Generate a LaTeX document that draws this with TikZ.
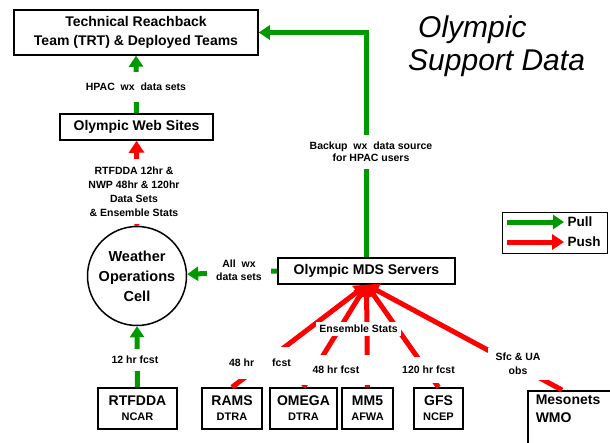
\documentclass[tikz,border=0pt]{standalone}
\usepackage{fontspec}
\setmainfont{Liberation Sans}
\usetikzlibrary{arrows.meta}
\definecolor{pullgreen}{RGB}{0,153,0}

\begin{document}
\begin{tikzpicture}[x=1pt, y=-1pt,
    box/.style = {
      draw,
      line width = 1.5pt,
      fill = white,
      inner sep = 0pt,
      align = center,
      font = \bfseries\fontsize{14}{16}\selectfont
    },
    lbl/.style = {
      fill = white,
      inner xsep = 3pt,
      align = center,
      font = \bfseries\fontsize{10.5}{13}\selectfont
    },
    pullarrow/.style = {
      draw = pullgreen,
      line width = 5pt,
      -{Triangle[length=11pt,width=14pt]}
    },
    pusharrow/.style = {
      draw = red,
      line width = 5pt,
      -{Triangle[length=12pt,width=15pt]}
    }
  ]
  \clip (0,0) rectangle (610,442);
  \fill[white] (0,0) rectangle (610,442);

  % title
  \node[anchor=base west, inner sep=0pt, font=\itshape\fontsize{30}{33}\selectfont] (title1) at (418,37) {Olympic};
  \node[anchor=base west, inner sep=0pt, font=\itshape\fontsize{30}{33}\selectfont] (title2) at (408,70) {Support Data};

  % boxes
  \node[box, minimum width=244pt, minimum height=45pt, font=\bfseries\fontsize{14}{19}\selectfont] (trt) at (136,32.5)
    {Technical Reachback\\Team (TRT) \& Deployed Teams};
  \node[box, minimum width=153pt, minimum height=26pt] (web) at (136.5,127) {Olympic Web Sites};
  \node[box, circle, minimum size=99pt, font=\bfseries\fontsize{14.5}{20}\selectfont] (woc) at (137,276)
    {Weather\\Operations\\Cell};
  \node[box, minimum width=177pt, minimum height=26pt] (mds) at (366.5,271) {Olympic MDS Servers};

  \node[box, minimum width=79pt, minimum height=41pt] (rtf) at (137.5,408.5)
    {RTFDDA\\[-1pt]{\fontsize{11}{13}\selectfont NCAR}};
  \node[box, minimum width=60pt, minimum height=41pt] (rams) at (232,408.5)
    {RAMS\\[-1pt]{\fontsize{11}{13}\selectfont DTRA}};
  \node[box, minimum width=67pt, minimum height=41pt] (omega) at (303.5,408.5)
    {OMEGA\\[-1pt]{\fontsize{11}{13}\selectfont DTRA}};
  \node[box, minimum width=51pt, minimum height=41pt] (mmfive) at (367.5,408.5)
    {MM5\\[-1pt]{\fontsize{11}{13}\selectfont AFWA}};
  \node[box, minimum width=49pt, minimum height=41pt] (gfs) at (438.5,408.5)
    {GFS\\[-1pt]{\fontsize{11}{13}\selectfont NCEP}};
  \node[box, anchor=north west, align=left, text width=80pt, inner xsep=8pt, inner ysep=4pt,
        text depth=40pt, font=\bfseries\fontsize{14}{18}\selectfont] (meso) at (527,390)
    {Mesonets\\WMO};

  % legend
  \node[draw, line width=1pt, minimum width=105pt, minimum height=41pt] (legend) at (554.5,232.5) {};
  \node[anchor=west, font=\bfseries\fontsize{13.5}{16}\selectfont] (pulltxt) at (564,222) {Pull};
  \node[anchor=west, font=\bfseries\fontsize{13.5}{16}\selectfont] (pushtxt) at (564,242) {Push};
  \coordinate (pullfrom) at (507,222);
  \coordinate (pushfrom) at (507,242);
  \draw[pullarrow] (pullfrom) -- (pulltxt.west);
  \draw[pusharrow] (pushfrom) -- (pushtxt.west);

  % pull
  \draw[pullarrow] (mds.north) |- (trt.east);
  \draw[pullarrow] (web.north) -- (trt.south);
  \draw[pullarrow] (mds.west) -- (woc);
  \draw[pullarrow] (rtf.north) -- (woc.south);

  % push
  \draw[pusharrow] (woc.north) -- (web.south);
  \draw[pusharrow] (rams.north) -- (mds.south);
  \draw[pusharrow] (omega.north) -- (mds.south);
  \draw[pusharrow] (mmfive.north) -- (mds.south);
  \draw[pusharrow] (gfs.north) -- (mds.south);
  \draw[pusharrow] ([xshift=35pt]meso.north west) -- (mds.south);

  % labels
  \node[lbl, inner ysep=11pt] (hpac) at (136,87) {HPAC~ wx~ data sets};
  \node[lbl, inner ysep=8pt, font=\bfseries\fontsize{10.5}{14}\selectfont] (rtfsets) at (134,191.5)
    {RTFDDA 12hr \&\\NWP 48hr \& 120hr\hspace*{22pt}\\Data Sets\\\& Ensemble Stats};
  \node[lbl, inner ysep=7pt, font=\bfseries\fontsize{10.5}{12}\selectfont] (backup) at (371,152)
    {Backup~ wx~ data source\\for HPAC users};
  \node[lbl, inner xsep=9pt, inner ysep=2pt] (allwx) at (239,270.5) {All~ wx\\data sets};
  \node[lbl, inner ysep=7pt] (twelve) at (135,360) {12 hr fcst};
  \node[lbl, inner ysep=3pt] (ens) at (358.5,329) {Ensemble Stats};
  \node[lbl, inner ysep=12pt] (ramsfc) at (260,363) {48 hr\hspace{18pt}fcst};
  \node[lbl, inner xsep=12pt, inner ysep=11pt] (omegafc) at (336,370) {48 hr fcst};
  \node[lbl, inner ysep=9pt] (gfsfc) at (428.5,370) {120 hr fcst};
  \node[lbl, inner xsep=8pt, inner ysep=5pt, font=\bfseries\fontsize{10.5}{14}\selectfont] (obs) at (518,364)
    {Sfc \& UA\\obs};
\end{tikzpicture}
\end{document}
